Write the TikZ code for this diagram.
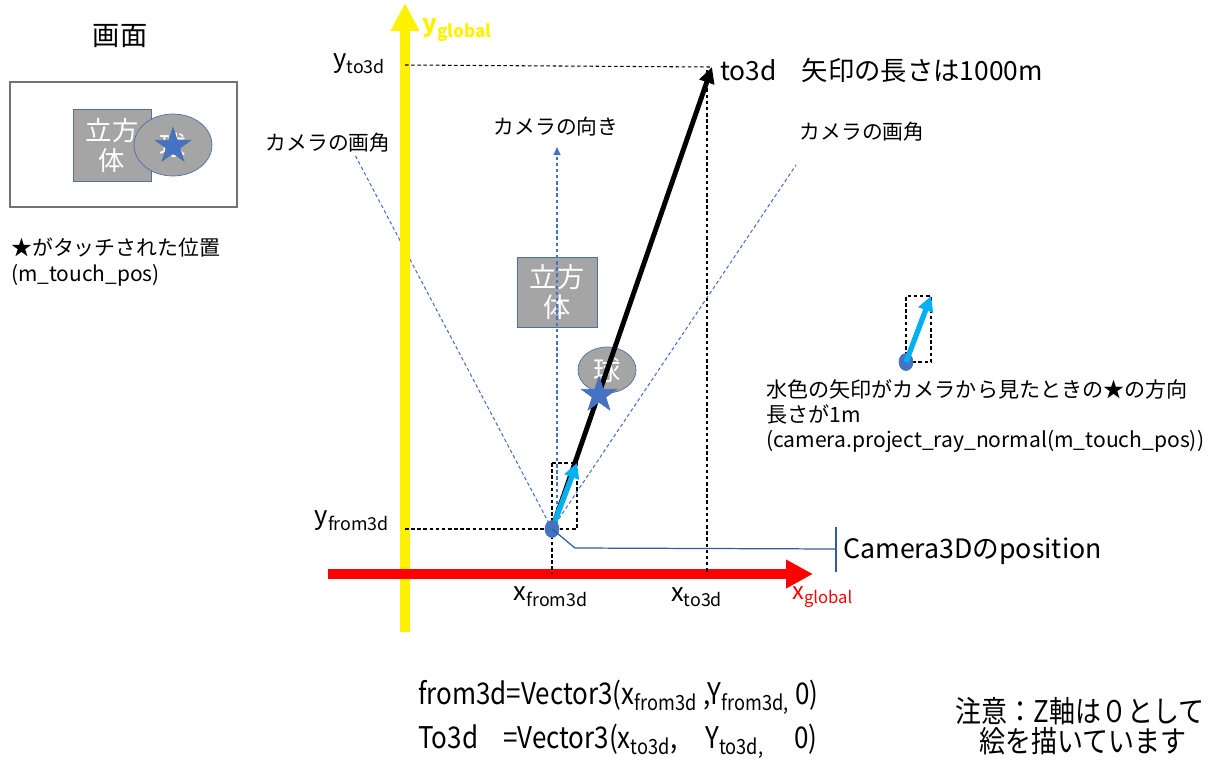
\documentclass[tikz,border=0pt]{standalone}
\usepackage{fontspec}
\setmainfont{Noto Sans CJK JP}
\newfontfamily\condfont[FakeStretch=0.87]{Noto Sans CJK JP}
\usetikzlibrary{calc, shapes.geometric, arrows.meta}

\definecolor{objgray}{HTML}{A5A5A5}
\definecolor{objedge}{HTML}{4F6FA8}
\definecolor{starblue}{HTML}{4472C4}
\definecolor{raycyan}{HTML}{00B0F0}
\definecolor{fovblue}{HTML}{4472C4}

\tikzset{
  obj/.style={fill=objgray, draw=objedge, text=white, align=center, inner sep=0pt},
  touchstar/.style={star, star points=5, star point ratio=2.6, fill=starblue, draw=objedge, inner sep=0pt, minimum size=#1},
  guide/.style={black, line width=0.6pt, dash pattern=on 2pt off 1.5pt},
  fov/.style={fovblue, line width=0.6pt, dash pattern=on 2pt off 1.5pt},
  ray/.style={raycyan, line width=3pt, -{Triangle[length=0.3cm, width=0.3cm]}},
  camdot/.style={ellipse, fill=starblue, draw=objedge, minimum width=0.28cm, minimum height=0.34cm, inner sep=0pt}
}

\begin{document}
\begin{tikzpicture}[x=0.02cm, y=-0.02cm]
        \useasboundingbox (0,0) rectangle (1211,771);

        \coordinate (C) at (552,529);
        \coordinate (T) at (712,67);
        \coordinate (Y0) at (405,632);
        \coordinate (Y1) at (405,3);
        \coordinate (X0) at (328,574);
        \coordinate (X1) at (813,574);
        \coordinate (L) at (355,155);
        \coordinate (R) at (796,165);
        \coordinate (D0) at (557,529);
        \coordinate (D1) at (557,147);
        \coordinate (K) at (575,548);
        \coordinate (P) at (836,549);
        \coordinate (P0) at (836,527);
        \coordinate (P1) at (836,572);
        \coordinate (E) at (906,362);
        \coordinate (F) at (931,296);

        % screen
        \node[font=\fontsize{15.5}{17}\selectfont] (title) at (120,36) {画面};
        \draw[gray!90!black, line width=1pt] (10,82) rectangle (237,207);
        \node[obj, minimum width=1.56cm, minimum height=1.44cm, font=\fontsize{15}{17}\selectfont] (scube) at (112,145) {立方\\体};
        \node[obj, ellipse, minimum width=1.56cm, minimum height=1.24cm, font=\fontsize{15}{17}\selectfont] (sball) at (173,145) {球};
        \node[touchstar=0.74cm] (sstar) at (173,146) {};
        \node[anchor=west, align=left, font=\fontsize{11.9}{14.5}\selectfont] (touch) at (5,262) {★がタッチされた位置\\(m\_touch\_pos)};

        % field of view
        \draw[fov] (C) -- (L);
        \draw[fov] (C) -- (R);
        \node[font=\fontsize{11.8}{13}\selectfont] (lfov) at (328,143) {カメラの画角};
        \node[font=\fontsize{11.8}{13}\selectfont] (rfov) at (862,132) {カメラの画角};
        \node[font=\fontsize{11.8}{13}\selectfont] (dir) at (556,127) {カメラの向き};

        % objects
        \node[obj, minimum width=1.6cm, minimum height=1.4cm, font=\fontsize{15.5}{17.5}\selectfont] (cube) at (557,292) {立方\\体};
        \node[obj, ellipse, minimum width=1.16cm, minimum height=0.92cm, font=\fontsize{15.5}{17}\selectfont] (ball) at (607,370) {球};
        \draw[fov, -{Triangle[length=0.16cm, width=0.14cm]}] (D0) -- (D1);

        % axes
        \draw[yellow, line width=5.6pt, -{Triangle[length=0.56cm, width=0.54cm]}] (Y0) -- (Y1);
        \draw[red, line width=5.6pt, -{Triangle[length=0.54cm, width=0.54cm]}] (X0) -- (X1);
        \node[anchor=west, text=yellow, font=\bfseries\fontsize{14}{16}\selectfont] (yg) at (416,30) {y\textsubscript{global}};
        \node[anchor=west, text=red, font=\fontsize{13.5}{15}\selectfont] (xg) at (786,597) {x\textsubscript{global}};

        % projections
        \draw[guide] (405,65) -- (T);
        \draw[guide] (707,70) -- (707,574);
        \draw[guide] (405,529) -- (C) -- (552,574);
        \node[anchor=east, font=\fontsize{14.5}{16}\selectfont] (yto) at (392,64) {y\textsubscript{to3d}};
        \node[anchor=east, font=\fontsize{14.5}{16}\selectfont] (yfrom) at (396,521) {y\textsubscript{from3d}};
        \node[font=\fontsize{14.5}{16}\selectfont] (xfrom) at (551,597) {x\textsubscript{from3d}};
        \node[font=\fontsize{14.5}{16}\selectfont] (xto) at (697,597) {x\textsubscript{to3d}};
        \node[anchor=west, font=\fontsize{15}{17}\selectfont] (tolab) at (714,70) {to3d\hspace{0.5cm}矢印の長さは1000m};

        % ray to to3d
        \draw[black, line width=2.8pt, -{Triangle[length=0.32cm, width=0.3cm]}] (C) -- (T);
        \node[touchstar=0.74cm] (star) at (599,395) {};
        \draw[guide] (552,463) rectangle (577,529);
        \draw[ray] (C) -- (577,463);
        \node[camdot] (cam) at (C) {};

        % camera position
        \draw[fovblue!80!black, line width=0.7pt] (cam.center) -- (K) -- (P);
        \draw[fovblue!80!black, line width=0.7pt] (P0) -- (P1);
        \node[anchor=west, font=\fontsize{15.2}{17}\selectfont] (campos) at (837,551) {Camera3Dのposition};

        % normal ray
        \draw[guide] (E) rectangle (F);
        \node[camdot] (edot) at (E) {};
        \draw[ray] (edot.center) -- (F);
        \node[anchor=north west, align=left, font=\fontsize{12}{14.3}\selectfont] (note) at (760,373) {水色の矢印がカメラから見たときの★の方向\\長さが1m\\(camera.project\_ray\_normal(m\_touch\_pos))};

        % bottom
        \node[anchor=west, font=\condfont\fontsize{17}{19}\selectfont] (f3d) at (412,697) {from3d=Vector3(x\textsubscript{from3d} ,Y\textsubscript{from3d,} 0)};
        \node[anchor=west, font=\condfont\fontsize{17}{19}\selectfont] (t3d) at (412,741) {To3d\hspace{0.5cm}=Vector3(x\textsubscript{to3d},\hspace{0.55cm}Y\textsubscript{to3d,}\hspace{0.6cm}0)};
        \node[font=\condfont\fontsize{17}{19}\selectfont] (warn1) at (1080,711) {注意：Z軸は０として};
        \node[font=\condfont\fontsize{17}{19}\selectfont] (warn2) at (1083,741) {絵を描いています};
\end{tikzpicture}
\end{document}
